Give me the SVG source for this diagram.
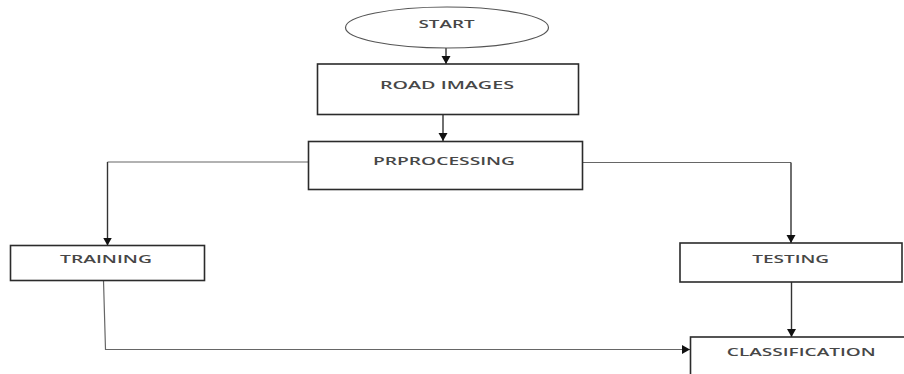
<svg xmlns="http://www.w3.org/2000/svg" width="904" height="374" viewBox="0 0 904 374">
<style>
.box{fill:#fff;stroke:#2b2b2b;stroke-width:1.6}
.oval{fill:#fff;stroke:#555;stroke-width:1.2}
.lbl{font-family:"Open Sans","Liberation Sans",Arial,sans-serif;font-size:11.5px;font-weight:600;fill:#474747;text-anchor:middle}
.con{fill:none;stroke:#333;stroke-width:1.4}
.thin{fill:none;stroke:#666;stroke-width:1.2}
</style>
<defs>
<marker id="ah" markerUnits="userSpaceOnUse" markerWidth="10" markerHeight="10" refX="8" refY="5" orient="auto">
<path d="M0,0.5 L8,5 L0,9.5 Z" fill="#111"/>
</marker>
</defs>
<rect width="904" height="374" fill="#fff"/>
<g id="connectors">
<line class="con" x1="446" y1="48" x2="446" y2="64" marker-end="url(#ah)"/>
<line class="con" x1="443" y1="114.5" x2="443" y2="141" marker-end="url(#ah)"/>
<polyline class="thin" points="308,162 107.5,162"/>
<line class="con" x1="107.5" y1="162" x2="107.5" y2="245.5" marker-end="url(#ah)"/>
<polyline class="thin" points="582,162.5 791,162.5"/>
<line class="con" x1="791" y1="162.5" x2="791" y2="243" marker-end="url(#ah)"/>
<polyline class="thin" points="103.5,280.5 105.5,349.5 690,349.5" marker-end="url(#ah)"/>
<line class="con" x1="791.5" y1="282" x2="791.5" y2="337" marker-end="url(#ah)"/>
</g>
<g id="start">
<ellipse class="oval" cx="447" cy="27.5" rx="101.5" ry="20.5"/>
<text class="lbl" x="446.5" y="28" textLength="56" lengthAdjust="spacingAndGlyphs">START</text>
</g>
<g id="road-images">
<rect class="box" x="317.5" y="64" width="261" height="50.5"/>
<text class="lbl" x="447" y="89.3" textLength="134" lengthAdjust="spacingAndGlyphs">ROAD IMAGES</text>
</g>
<g id="prprocessing">
<rect class="box" x="308.5" y="141.5" width="274" height="48"/>
<text class="lbl" x="444" y="165" textLength="142" lengthAdjust="spacingAndGlyphs">PRPROCESSING</text>
</g>
<g id="training">
<rect class="box" x="10.5" y="245.5" width="194" height="35"/>
<text class="lbl" x="106" y="263.3" textLength="92" lengthAdjust="spacingAndGlyphs">TRAINING</text>
</g>
<g id="testing">
<rect class="box" x="680" y="243" width="222" height="39"/>
<text class="lbl" x="790.7" y="262.7" textLength="77" lengthAdjust="spacingAndGlyphs">TESTING</text>
</g>
<g id="classification">
<rect class="box" x="690.5" y="337" width="230" height="60"/>
<text class="lbl" x="801.3" y="356" textLength="149" lengthAdjust="spacingAndGlyphs">CLASSIFICATION</text>
</g>
</svg>
